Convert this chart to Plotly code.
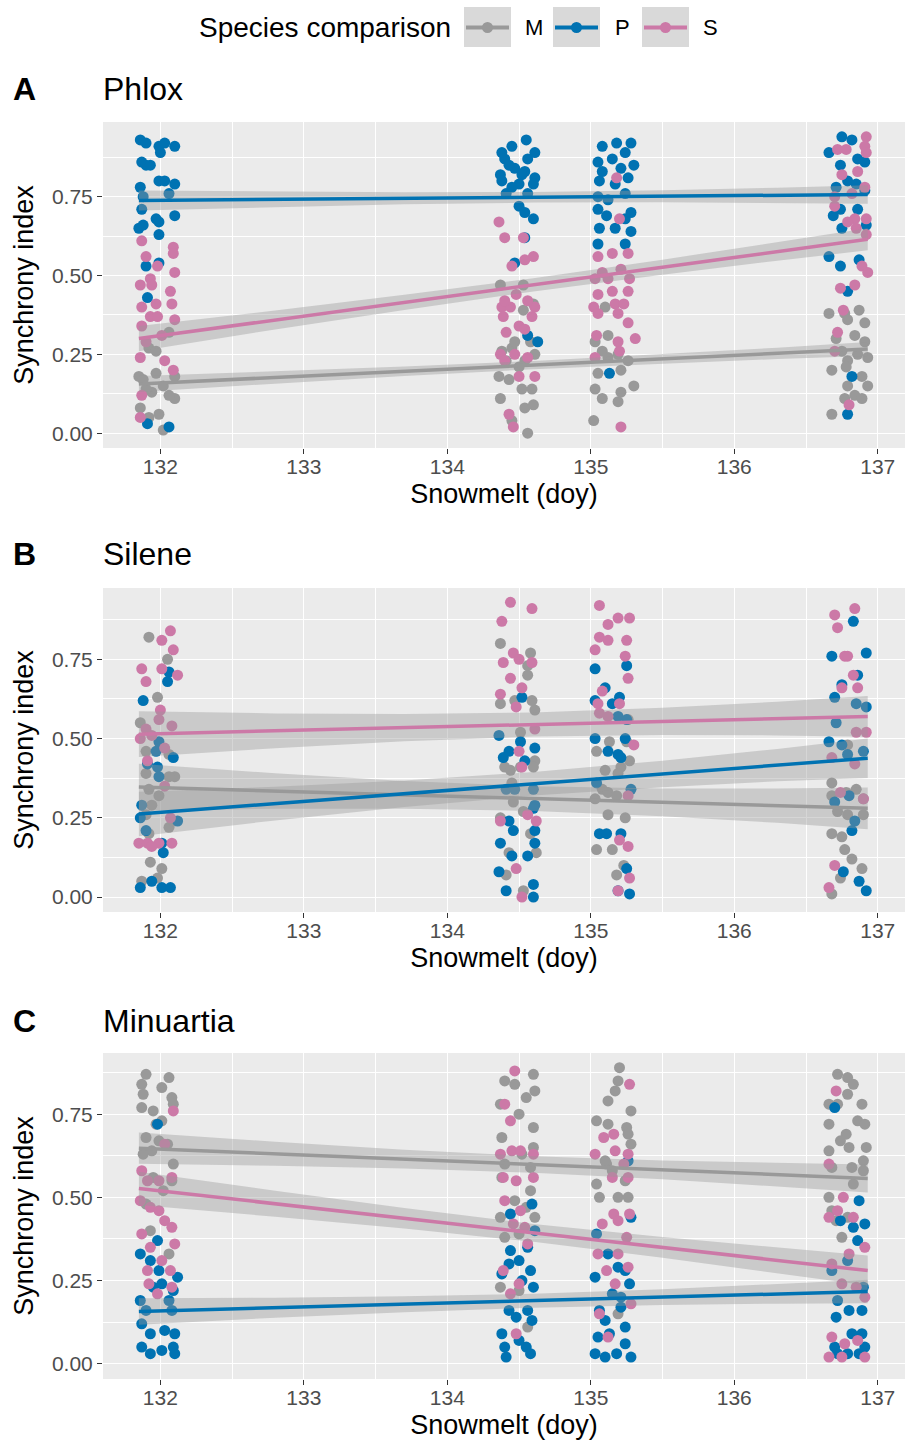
import plotly.graph_objects as go

# ---------------- data ----------------
species = ["M", "P", "S"]
species_colors = {"M": "#999999", "P": "#0072B2", "S": "#CC79A7"}
panel_letters = ["A", "B", "C"]
panel_titles = ["Phlox", "Silene", "Minuartia"]
x_ticks = [132, 133, 134, 135, 136, 137]
y_ticks = [0.0, 0.25, 0.5, 0.75]
y_tick_text = ["0.00", "0.25", "0.50", "0.75"]

# Phlox
phlox_M_x = [132.06,131.92,131.97,131.85,131.88,131.97,132.02,132.10,131.94,132.10,131.86,131.99,132.02,131.90,132.06,131.92,
             134.37,134.53,134.60,134.53,134.38,134.45,134.61,134.41,134.50,134.54,134.36,134.43,134.59,134.37,134.54,134.60,134.45,134.56,134.52,134.47,134.58,
             135.10,135.03,135.12,135.08,135.19,135.26,135.12,135.05,135.21,135.03,135.30,135.08,135.19,135.21,135.02,
             136.66,136.77,136.87,136.79,136.91,136.71,136.84,136.91,136.75,136.86,136.79,136.93,136.68,136.78,136.89,136.93,136.79,136.84,136.77,136.89,136.68]
phlox_M_y = [0.32,0.27,0.26,0.18,0.17,0.19,0.15,0.18,0.13,0.11,0.08,0.06,0.01,0.14,0.12,0.05,
             0.47,0.47,0.41,0.39,0.26,0.27,0.25,0.23,0.21,0.23,0.18,0.17,0.14,0.11,0.08,0.09,0.04,0.00,0.14,0.29,0.29,
             0.40,0.29,0.31,0.26,0.25,0.23,0.24,0.19,0.20,0.14,0.15,0.11,0.10,0.13,0.04,
             0.38,0.38,0.39,0.36,0.35,0.30,0.31,0.29,0.26,0.25,0.23,0.24,0.20,0.21,0.18,0.15,0.15,0.12,0.11,0.11,0.06]
phlox_P_x = [131.86,131.90,131.99,132.03,132.10,132.00,131.87,131.90,131.93,131.86,131.99,132.03,132.10,131.88,132.06,131.87,131.97,132.10,131.85,131.88,131.99,131.99,131.90,131.99,131.91,131.91,132.06,
             134.45,134.55,134.38,134.40,134.61,134.56,134.37,134.47,134.54,134.61,134.38,134.50,134.60,134.41,134.56,134.50,134.54,134.60,134.54,134.47,134.56,134.63,134.43,134.52,134.45,
             135.08,135.18,135.28,135.05,135.15,135.24,135.08,135.21,135.30,135.06,135.17,135.26,135.05,135.12,135.24,135.05,135.11,135.24,135.28,135.06,135.17,135.28,135.05,135.24,135.13,
             136.75,136.82,136.66,136.74,136.86,136.91,136.79,136.85,136.71,136.91,136.69,136.74,136.86,136.75,136.92,136.66,136.74,136.87,136.79,136.82,136.79]
phlox_P_y = [0.93,0.92,0.91,0.92,0.91,0.89,0.86,0.85,0.85,0.78,0.80,0.80,0.79,0.75,0.76,0.71,0.68,0.69,0.65,0.66,0.67,0.63,0.53,0.54,0.43,0.03,0.02,
             0.91,0.93,0.89,0.87,0.89,0.87,0.82,0.84,0.83,0.81,0.80,0.79,0.79,0.76,0.76,0.72,0.70,0.68,0.62,0.54,0.31,0.29,0.85,0.82,0.78,
             0.91,0.92,0.92,0.86,0.87,0.89,0.83,0.84,0.85,0.80,0.79,0.81,0.75,0.74,0.76,0.71,0.69,0.68,0.70,0.65,0.65,0.64,0.60,0.60,0.19,
             0.94,0.93,0.89,0.85,0.87,0.86,0.80,0.79,0.78,0.77,0.69,0.71,0.71,0.65,0.66,0.56,0.53,0.55,0.45,0.18,0.06]
phlox_S_x = [131.87,132.09,132.09,131.90,131.98,132.10,131.93,131.86,131.94,132.07,131.87,132.08,131.97,131.93,131.98,132.10,131.87,131.90,132.01,131.86,132.03,132.09,131.87,131.86,
             134.36,134.40,134.53,134.45,134.54,134.60,134.38,134.39,134.44,134.59,134.61,134.50,134.41,134.54,134.37,134.47,134.61,134.50,134.40,134.56,134.43,134.46,134.40,134.56,134.48,
             135.18,135.20,135.05,135.15,135.26,135.08,135.21,135.03,135.12,135.27,135.05,135.15,135.26,135.02,135.17,135.23,135.05,135.19,135.26,135.04,135.19,135.31,135.03,135.20,135.21,
             136.92,136.91,136.72,136.78,136.92,136.86,136.75,136.70,136.82,136.91,136.84,136.70,136.79,136.92,136.85,136.92,136.89,136.93,136.74,136.84,136.76,136.72,136.80,136.70]
phlox_S_y = [0.61,0.59,0.57,0.56,0.53,0.51,0.49,0.47,0.47,0.45,0.40,0.41,0.41,0.37,0.37,0.36,0.34,0.29,0.31,0.24,0.23,0.20,0.12,0.05,
             0.67,0.62,0.62,0.53,0.55,0.56,0.40,0.37,0.40,0.37,0.40,0.34,0.32,0.33,0.25,0.25,0.18,0.18,0.23,0.24,0.06,0.02,0.42,0.42,0.44,
             0.81,0.68,0.56,0.57,0.57,0.51,0.52,0.49,0.49,0.49,0.44,0.45,0.45,0.40,0.41,0.41,0.38,0.38,0.35,0.31,0.29,0.30,0.24,0.26,0.02,
             0.94,0.91,0.90,0.90,0.89,0.83,0.82,0.75,0.76,0.78,0.68,0.72,0.67,0.68,0.65,0.63,0.53,0.51,0.46,0.47,0.39,0.32,0.09,0.26]

# Silene
silene_M_x = [131.92,132.05,131.98,131.86,131.90,132.06,131.90,131.92,131.99,132.10,132.06,131.94,131.90,132.06,132.09,131.92,131.93,132.01,131.87,131.98,
              134.37,134.58,134.56,134.56,134.37,134.47,134.59,134.61,134.51,134.61,134.40,134.51,134.60,134.44,134.45,134.46,134.53,134.37,134.58,134.43,134.62,134.41,134.53,
              135.26,135.13,135.25,135.04,135.21,135.10,135.27,135.19,135.08,135.12,135.18,135.03,135.12,135.24,135.04,135.15,135.23,135.18,
              136.68,136.85,136.78,136.90,136.68,136.72,136.90,136.79,136.68,136.75,136.77,136.82,136.89,136.74,136.68,136.79]
silene_M_y = [0.82,0.75,0.63,0.55,0.46,0.45,0.39,0.34,0.32,0.38,0.38,0.29,0.26,0.22,0.24,0.20,0.11,0.09,0.05,0.06,
              0.80,0.77,0.70,0.73,0.61,0.62,0.62,0.59,0.52,0.43,0.41,0.41,0.41,0.40,0.36,0.30,0.27,0.25,0.20,0.14,0.14,0.07,0.02,
              0.56,0.49,0.49,0.46,0.41,0.40,0.43,0.39,0.34,0.33,0.32,0.31,0.26,0.25,0.15,0.15,0.10,0.07,
              0.36,0.34,0.33,0.31,0.32,0.27,0.26,0.26,0.20,0.19,0.15,0.12,0.09,0.06,0.01,0.48]
silene_P_x = [132.06,132.05,131.88,131.99,131.97,132.09,131.91,131.98,131.99,131.87,131.86,132.12,131.90,132.01,132.02,131.86,131.94,132.01,132.07,
              134.52,134.36,134.51,134.43,134.61,134.54,134.39,134.41,134.47,134.60,134.61,134.60,134.43,134.46,134.61,134.37,134.61,134.56,134.45,134.36,134.41,134.60,134.60,
              135.03,135.25,135.10,135.03,135.20,135.15,135.19,135.25,135.03,135.12,135.24,135.19,135.21,135.28,135.04,135.06,135.11,135.21,135.25,135.27,135.19,
              136.83,136.68,136.92,136.86,136.75,136.70,136.85,136.92,136.71,136.66,136.75,136.90,136.79,136.80,136.70,136.84,136.82,136.76,136.87,136.92]
silene_P_y = [0.71,0.68,0.62,0.49,0.46,0.44,0.42,0.41,0.38,0.29,0.25,0.24,0.21,0.17,0.14,0.03,0.05,0.03,0.03,
              0.63,0.51,0.49,0.46,0.47,0.43,0.44,0.34,0.34,0.34,0.29,0.28,0.24,0.21,0.21,0.17,0.17,0.13,0.13,0.08,0.02,0.04,0.00,
              0.72,0.73,0.66,0.62,0.63,0.61,0.57,0.56,0.50,0.46,0.50,0.45,0.44,0.34,0.36,0.20,0.20,0.20,0.09,0.01,0.02,
              0.87,0.76,0.77,0.70,0.67,0.63,0.61,0.60,0.55,0.49,0.48,0.46,0.45,0.32,0.30,0.24,0.21,0.08,0.05,0.02]
silene_S_x = [132.07,132.01,132.09,131.87,131.90,132.01,132.12,132.00,131.99,131.90,132.08,131.94,131.86,132.03,131.91,132.03,132.07,131.85,131.91,131.99,132.08,131.94,
              134.44,134.59,134.38,134.46,134.39,134.50,134.59,134.44,134.52,134.37,134.48,134.61,134.50,134.52,134.56,134.37,134.62,134.48,134.52,
              135.06,135.19,135.27,135.12,135.06,135.12,135.03,135.25,135.24,135.26,135.08,135.05,135.20,135.06,135.12,135.30,135.26,135.20,135.26,135.27,135.19,
              136.70,136.84,136.72,136.77,136.79,136.83,136.75,136.86,136.85,136.92,136.68,136.84,136.74,136.90,136.70,136.66]
silene_S_y = [0.84,0.81,0.78,0.72,0.68,0.72,0.70,0.59,0.56,0.53,0.54,0.51,0.50,0.47,0.43,0.35,0.25,0.17,0.17,0.17,0.17,0.16,
              0.93,0.91,0.87,0.77,0.74,0.75,0.74,0.69,0.66,0.64,0.60,0.53,0.46,0.41,0.26,0.24,0.24,0.09,0.00,
              0.92,0.88,0.88,0.86,0.82,0.81,0.78,0.81,0.76,0.69,0.65,0.61,0.61,0.58,0.57,0.48,0.32,0.18,0.16,0.06,0.02,
              0.89,0.91,0.85,0.76,0.76,0.70,0.66,0.66,0.52,0.52,0.44,0.42,0.33,0.31,0.10,0.03]

# Minuartia
minuartia_M_x = [131.90,132.06,131.87,132.01,131.88,132.08,131.87,131.95,132.09,131.97,132.01,131.90,131.94,131.88,132.05,131.99,132.09,131.95,132.08,132.02,131.93,132.06,131.90,
                 134.60,134.40,134.47,134.61,134.37,134.55,134.50,134.38,134.60,134.60,134.40,134.52,134.38,134.58,134.58,134.47,134.37,134.61,134.55,134.40,134.50,134.37,134.50,134.56,
                 135.20,135.19,135.17,135.12,135.28,135.04,135.12,135.25,135.26,135.11,135.15,135.24,135.28,135.04,135.06,135.19,135.26,135.10,135.19,
                 136.72,136.79,136.83,136.79,136.66,136.72,136.89,136.66,136.86,136.78,136.91,136.74,136.66,136.80,136.92,136.90,136.68,136.82,136.90,136.83,136.66,136.68,136.71,136.79,136.75]
minuartia_M_y = [0.87,0.86,0.84,0.83,0.81,0.80,0.77,0.76,0.78,0.72,0.73,0.68,0.64,0.63,0.66,0.67,0.60,0.56,0.55,0.52,0.40,0.33,0.48,
                 0.87,0.85,0.84,0.82,0.78,0.80,0.75,0.68,0.71,0.65,0.60,0.63,0.56,0.59,0.52,0.49,0.44,0.44,0.47,0.38,0.39,0.23,0.22,0.11,
                 0.89,0.85,0.82,0.79,0.76,0.73,0.72,0.71,0.69,0.60,0.58,0.55,0.66,0.54,0.50,0.50,0.50,0.61,0.15,
                 0.87,0.86,0.84,0.81,0.78,0.78,0.78,0.72,0.73,0.69,0.72,0.67,0.64,0.65,0.65,0.61,0.59,0.59,0.58,0.54,0.50,0.46,0.43,0.44,0.38]
minuartia_P_x = [131.98,131.98,131.86,131.93,131.99,132.12,131.95,132.09,132.01,131.86,132.06,131.90,131.87,132.08,131.93,132.03,132.10,131.87,131.93,132.01,132.09,132.10,
                 134.59,134.44,134.61,134.44,134.56,134.50,134.43,134.38,134.58,134.60,134.52,134.43,134.56,134.38,134.48,134.59,134.40,134.55,134.41,134.50,134.58,
                 135.26,135.28,135.04,135.12,135.19,135.24,135.03,135.27,135.15,135.21,135.06,135.21,135.10,135.05,135.13,135.24,135.24,135.03,135.10,135.18,135.28,
                 136.70,136.87,136.91,136.83,136.74,136.86,136.79,136.68,136.90,136.72,136.80,136.89,136.71,136.82,136.89,136.70,136.79,136.87,136.91,136.72]
minuartia_P_y = [0.72,0.37,0.33,0.31,0.28,0.26,0.23,0.22,0.24,0.19,0.19,0.16,0.12,0.16,0.09,0.10,0.09,0.05,0.03,0.04,0.05,0.03,
                 0.48,0.45,0.40,0.34,0.35,0.31,0.30,0.27,0.28,0.23,0.25,0.16,0.16,0.09,0.14,0.13,0.05,0.05,0.02,0.07,0.03,
                 0.61,0.44,0.39,0.33,0.29,0.28,0.26,0.24,0.21,0.20,0.16,0.17,0.13,0.08,0.09,0.11,0.06,0.03,0.02,0.03,0.02,
                 0.77,0.49,0.42,0.41,0.43,0.37,0.31,0.28,0.23,0.19,0.16,0.16,0.14,0.09,0.09,0.05,0.03,0.03,0.05,0.03]
minuartia_S_x = [132.09,132.03,131.87,131.91,131.99,132.08,131.86,131.93,131.99,132.03,132.08,131.87,131.93,132.10,132.01,131.91,132.07,131.92,131.98,132.08,
                 134.47,134.40,134.44,134.37,134.45,134.51,134.60,134.39,134.48,134.60,134.40,134.51,134.46,134.54,134.56,134.39,134.50,134.44,134.48,
                 135.27,135.09,135.16,135.03,135.17,135.26,135.23,135.15,135.26,135.16,135.27,135.08,135.19,135.25,135.05,135.19,135.11,135.26,135.17,135.28,135.06,135.12,
                 136.71,136.66,136.76,136.83,136.66,136.72,136.91,136.80,136.68,136.75,136.85,136.91,136.68,136.77,136.86,136.66,136.91,136.75]
minuartia_S_y = [0.76,0.66,0.58,0.55,0.55,0.56,0.49,0.47,0.46,0.43,0.41,0.39,0.35,0.36,0.31,0.28,0.28,0.24,0.21,0.23,
                 0.88,0.78,0.73,0.63,0.64,0.64,0.63,0.56,0.55,0.56,0.49,0.46,0.42,0.41,0.36,0.28,0.24,0.21,0.09,
                 0.84,0.68,0.69,0.63,0.64,0.63,0.60,0.56,0.56,0.45,0.45,0.42,0.43,0.38,0.33,0.33,0.28,0.29,0.24,0.18,0.15,0.08,
                 0.82,0.60,0.50,0.44,0.44,0.46,0.35,0.33,0.30,0.24,0.23,0.20,0.08,0.06,0.07,0.02,0.02,0.02]

# fitted regression lines (value at the two ends of the data range)
fit_x = [131.85, 136.93]
phlox_fit = {"M": [0.156, 0.267], "P": [0.738, 0.757], "S": [0.300, 0.615]}
silene_fit = {"M": [0.347, 0.280], "P": [0.262, 0.438], "S": [0.514, 0.570]}
minuartia_fit = {"M": [0.648, 0.557], "P": [0.157, 0.217], "S": [0.527, 0.280]}

# confidence band half-widths at these x positions
band_x = [131.85, 132.8, 133.7, 134.6, 135.5, 136.3, 136.93]
phlox_band = {"M": [0.025, 0.019, 0.015, 0.013, 0.015, 0.018, 0.022],
              "P": [0.032, 0.025, 0.019, 0.017, 0.019, 0.024, 0.029],
              "S": [0.040, 0.030, 0.024, 0.021, 0.024, 0.029, 0.035]}
silene_band = {"M": [0.074, 0.056, 0.044, 0.039, 0.044, 0.054, 0.066],
               "P": [0.070, 0.053, 0.042, 0.037, 0.042, 0.051, 0.062],
               "S": [0.072, 0.055, 0.043, 0.038, 0.043, 0.053, 0.064]}
minuartia_band = {"M": [0.047, 0.036, 0.028, 0.025, 0.028, 0.035, 0.042],
                  "P": [0.040, 0.030, 0.024, 0.021, 0.024, 0.029, 0.035],
                  "S": [0.050, 0.039, 0.031, 0.027, 0.031, 0.038, 0.045]}

panels_points = [
    {"M": (phlox_M_x, phlox_M_y), "P": (phlox_P_x, phlox_P_y), "S": (phlox_S_x, phlox_S_y)},
    {"M": (silene_M_x, silene_M_y), "P": (silene_P_x, silene_P_y), "S": (silene_S_x, silene_S_y)},
    {"M": (minuartia_M_x, minuartia_M_y), "P": (minuartia_P_x, minuartia_P_y), "S": (minuartia_S_x, minuartia_S_y)},
]
panels_fit = [phlox_fit, silene_fit, minuartia_fit]
panels_band = [phlox_band, silene_band, minuartia_band]

# ---------------- layout geometry (pixels) ----------------
W, H = 906, 1449
FONT = "Liberation Sans, Arial, sans-serif"
plot_left, plot_right = 103, 905
panel_px = [(122, 448), (588, 912), (1053, 1379)]
y_ranges = [[-0.047, 0.987], [-0.047, 0.975], [-0.046, 0.934]]
x_range = [131.60, 137.19]
title_y_px = [89, 554, 1021]

TICK_SIZE = 21
TITLE_SIZE = 27
PANEL_TITLE_SIZE = 32


def fx(p):
    return p / W


def fy(p):
    return 1 - p / H


fig = go.Figure()

for i in range(3):
    sfx = "" if i == 0 else str(i + 1)
    xa, ya = "x" + sfx, "y" + sfx
    pts = panels_points[i]
    for sp in species:
        xs, ys = pts[sp]
        fig.add_trace(go.Scatter(
            x=xs, y=ys, mode="markers", xaxis=xa, yaxis=ya,
            marker=dict(color=species_colors[sp], size=11, line=dict(width=0)),
            showlegend=False, hoverinfo="skip"))
    for sp in species:
        y0, y1 = panels_fit[i][sp]
        centre = [y0 + (y1 - y0) * (bx - fit_x[0]) / (fit_x[1] - fit_x[0]) for bx in band_x]
        hw = panels_band[i][sp]
        upper = [c + h for c, h in zip(centre, hw)]
        lower = [c - h for c, h in zip(centre, hw)]
        fig.add_trace(go.Scatter(
            x=band_x + band_x[::-1], y=upper + lower[::-1], mode="lines",
            fill="toself", fillcolor="rgba(153,153,153,0.4)", line=dict(width=0),
            xaxis=xa, yaxis=ya, showlegend=False, hoverinfo="skip"))
        fig.add_trace(go.Scatter(
            x=fit_x, y=[y0, y1], mode="lines", xaxis=xa, yaxis=ya,
            line=dict(color=species_colors[sp], width=3.5),
            showlegend=False, hoverinfo="skip"))

    top, bot = panel_px[i]
    common_axis = dict(
        showgrid=True, gridcolor="white", gridwidth=1.4,
        zeroline=False, showline=False,
        ticks="outside", ticklen=5, tickwidth=1.3, tickcolor="#333333",
        tickfont=dict(family=FONT, size=TICK_SIZE, color="#4D4D4D"),
        automargin=False,
    )
    fig.layout["xaxis" + sfx] = dict(
        common_axis, domain=[fx(plot_left), fx(plot_right)], range=x_range,
        anchor=ya, tickvals=x_ticks, ticklabelstandoff=-5,
        minor=dict(dtick=0.5, tick0=131.5, showgrid=True, gridcolor="white", gridwidth=0.7, ticks=""),
        title=dict(text="Snowmelt (doy)", font=dict(family=FONT, size=TITLE_SIZE, color="black"), standoff=6),
    )
    fig.layout["yaxis" + sfx] = dict(
        common_axis, domain=[fy(bot), fy(top)], range=y_ranges[i],
        anchor=xa, tickvals=y_ticks, ticktext=y_tick_text,
        minor=dict(tickvals=[0.125, 0.375, 0.625, 0.875], showgrid=True, gridcolor="white", gridwidth=0.7, ticks=""),
        title=dict(text="Synchrony index", font=dict(family=FONT, size=TITLE_SIZE, color="black"), standoff=10),
    )

annotations = []
for i in range(3):
    annotations.append(dict(text="<b>" + panel_letters[i] + "</b>", x=fx(11), y=fy(title_y_px[i]),
                            xref="paper", yref="paper", xanchor="left", yanchor="middle",
                            showarrow=False, font=dict(family=FONT, size=PANEL_TITLE_SIZE, color="black")))
    annotations.append(dict(text=panel_titles[i], x=fx(101), y=fy(title_y_px[i]),
                            xref="paper", yref="paper", xanchor="left", yanchor="middle",
                            showarrow=False, font=dict(family=FONT, size=PANEL_TITLE_SIZE, color="black")))

# manual legend (ggplot style)
shapes = []
annotations.append(dict(text="Species comparison", x=fx(453), y=fy(27), xref="paper", yref="paper",
                        xanchor="right", yanchor="middle", showarrow=False,
                        font=dict(family=FONT, size=TITLE_SIZE + 1, color="black")))
key_left = [464, 553, 642]
label_left = [523, 613, 701]
for k, sp in enumerate(species):
    x0 = key_left[k]
    shapes.append(dict(type="rect", xref="paper", yref="paper", x0=fx(x0), x1=fx(x0 + 47),
                       y0=fy(47), y1=fy(7), fillcolor="#D9D9D9", line=dict(width=0), layer="below"))
    shapes.append(dict(type="line", xref="paper", yref="paper", x0=fx(x0 + 2), x1=fx(x0 + 45),
                       y0=fy(27.5), y1=fy(27.5), line=dict(color=species_colors[sp], width=4)))
    cx = x0 + 23.5
    shapes.append(dict(type="circle", xref="paper", yref="paper", x0=fx(cx - 5.5), x1=fx(cx + 5.5),
                       y0=fy(33), y1=fy(22), fillcolor=species_colors[sp], line=dict(width=0)))
    annotations.append(dict(text=sp, x=fx(label_left[k]), y=fy(27), xref="paper", yref="paper",
                            xanchor="left", yanchor="middle", showarrow=False,
                            font=dict(family=FONT, size=TICK_SIZE + 1, color="black")))

fig.update_layout(
    width=W, height=H, margin=dict(l=0, r=0, t=0, b=0),
    paper_bgcolor="white", plot_bgcolor="#EBEBEB",
    font=dict(family=FONT),
    showlegend=False,
    annotations=annotations, shapes=shapes,
)

fig.write_html("out.html")
